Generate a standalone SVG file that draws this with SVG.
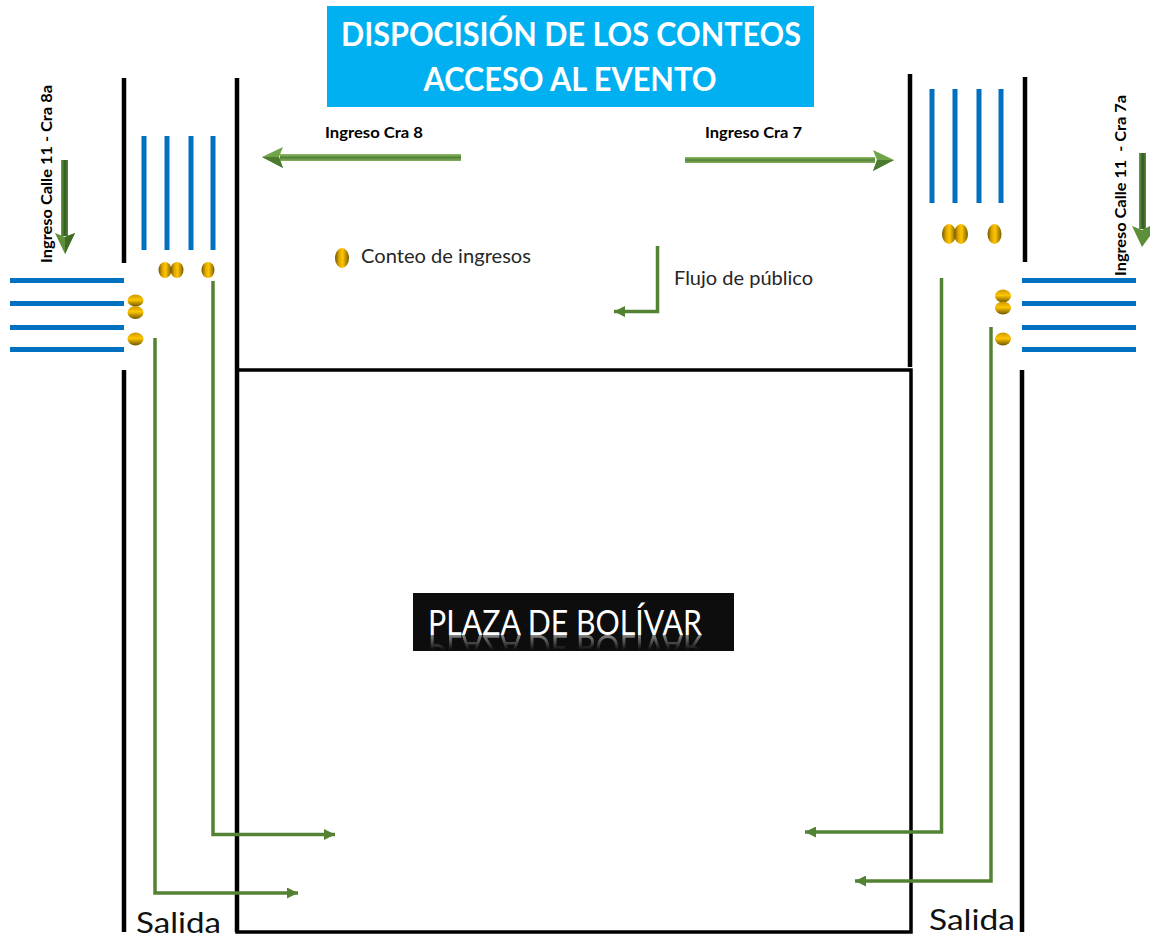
<svg xmlns="http://www.w3.org/2000/svg" width="1150" height="939" viewBox="0 0 1150 939">
<style>
text{font-family:"Lato","Open Sans","Liberation Sans",sans-serif}
.wall{stroke:#000;stroke-width:4.5;fill:none}
.box{stroke:#000;stroke-width:3.5;fill:none}
.cross{stroke:#0070C0;stroke-width:5;fill:none}
.flow{stroke:#548235;stroke-width:3.5;fill:none}
.cv{fill:url(#goldV)}
.ch{fill:url(#goldH)}
.lab{font-size:14.5px;font-weight:700;fill:#000}
.txt{font-size:20px;fill:#262626}
.sal{font-size:29px;fill:#111}
.ttl{font-size:33px;font-weight:700;fill:#fff;text-anchor:middle}
</style>
<defs>
<marker id="ah" markerUnits="userSpaceOnUse" markerWidth="12" markerHeight="11" refX="11" refY="5.500" orient="auto"><path d="M0 0L11 5.500L0 11Z" fill="#548235"/></marker>
<linearGradient id="goldV" x1="0" x2="1" y1="0" y2="0"><stop offset="0" stop-color="#6e5500"/><stop offset=".3" stop-color="#e0a800"/><stop offset=".55" stop-color="#ffc600"/><stop offset="1" stop-color="#7a5d00"/></linearGradient>
<linearGradient id="goldH" x1="0" x2="0" y1="0" y2="1"><stop offset="0" stop-color="#c99700"/><stop offset=".45" stop-color="#ffc600"/><stop offset="1" stop-color="#6e5500"/></linearGradient>
<linearGradient id="sh" x1="0" x2="0" y1="0" y2="1"><stop offset="0" stop-color="#8fbf6a"/><stop offset=".5" stop-color="#548235"/><stop offset="1" stop-color="#86b062"/></linearGradient>
<linearGradient id="sv" x1="0" x2="1" y1="0" y2="0"><stop offset="0" stop-color="#6f9b4c"/><stop offset=".55" stop-color="#2f5a1c"/><stop offset="1" stop-color="#5d8a3c"/></linearGradient>
<linearGradient id="fade" x1="0" x2="0" y1="632" y2="650" gradientUnits="userSpaceOnUse"><stop offset="0" stop-color="#fff" stop-opacity=".6"/><stop offset="1" stop-color="#fff" stop-opacity="0"/></linearGradient>
<mask id="refl" maskUnits="userSpaceOnUse" x="413" y="630" width="321" height="21"><rect x="413" y="630" width="321" height="21" fill="url(#fade)"/></mask>
</defs>

<g id="title"><rect x="327" y="6" width="487" height="101" fill="#00B0F0"/>
<text class="ttl" x="571" y="46" textLength="460" lengthAdjust="spacingAndGlyphs">DISPOCISIÓN DE LOS CONTEOS</text>
<text class="ttl" x="570" y="91" textLength="293" lengthAdjust="spacingAndGlyphs">ACCESO AL EVENTO</text></g>

<g id="walls">
<path class="wall" d="M124 78V263M124 370V932M237 78V932M910 74V367M1025 77V262M1022 370V932"/>
<rect id="plaza-outline" class="box" x="237" y="370" width="674" height="562"/>
</g>

<g id="crossings">
<path class="cross" d="M144 136V250M167 136V250M191 136V250M213 136V250"/>
<path class="cross" d="M10 280.500H124M10 303.500H124M10 327.500H124M10 349.500H124"/>
<path class="cross" d="M932 89V203M955 89V203M979 89V203M1001 89V203"/>
<path class="cross" d="M1022 280.500H1136M1022 303.500H1136M1022 327.500H1136M1022 349.500H1136"/>
</g>

<g id="connectors">
<path class="flow" marker-end="url(#ah)" d="M213 281V834.500H335"/>
<path class="flow" marker-end="url(#ah)" d="M155 338V893H298"/>
<path class="flow" marker-end="url(#ah)" d="M941.500 278V832H805"/>
<path class="flow" marker-end="url(#ah)" d="M991 327V881H855"/>
<path class="flow" marker-end="url(#ah)" d="M657.500 246V311.500H614"/>
</g>

<g id="entry-arrows">
<g id="arrow-cra8"><rect x="280" y="154" width="181" height="7" fill="url(#sh)"/><path d="M262 157L283 147L279 157L283 168Z" fill="#6fa548"/><path d="M262 157L279 157L283 168Z" fill="#4c7a2e"/></g>
<g id="arrow-cra7"><rect x="685" y="157" width="190" height="6" fill="url(#sh)"/><path d="M894 160L873 150L877 160L873 171Z" fill="#6fa548"/><path d="M894 160L877 160L873 171Z" fill="#4c7a2e"/></g>
<g id="arrow-calle8"><rect x="61" y="160" width="7" height="76" fill="url(#sv)"/><path d="M65 254L55 233L65 237L75 233Z" fill="#5d8f3a"/><path d="M65 254L65 237L75 233Z" fill="#3f6b25"/></g>
<g id="arrow-calle7"><rect x="1139" y="153" width="7" height="76" fill="url(#sv)"/><path d="M1142 247L1132 226L1142 230L1150 226V236Z" fill="#5d8f3a"/></g>
</g>

<g id="counters">
<ellipse class="cv" cx="165" cy="270" rx="6.500" ry="8"/><ellipse class="cv" cx="177" cy="270" rx="6.500" ry="8"/><ellipse class="cv" cx="208" cy="270" rx="6.500" ry="8"/>
<ellipse class="ch" cx="135.500" cy="300.500" rx="8" ry="6"/><ellipse class="ch" cx="135.500" cy="312.500" rx="8" ry="6.500"/><ellipse class="ch" cx="135.500" cy="339" rx="8" ry="6.500"/>
<ellipse class="cv" cx="949" cy="234" rx="7" ry="10"/><ellipse class="cv" cx="961" cy="234" rx="7" ry="10"/><ellipse class="cv" cx="994.500" cy="234" rx="7" ry="10"/>
<ellipse class="ch" cx="1003" cy="296" rx="8" ry="6.500"/><ellipse class="ch" cx="1003" cy="308" rx="8" ry="6.500"/><ellipse class="ch" cx="1003" cy="339" rx="8" ry="6.500"/>
</g>

<g id="legend-count"><ellipse class="cv" cx="342" cy="258" rx="7" ry="10"/>
<text class="txt" x="361" y="263" textLength="170" lengthAdjust="spacingAndGlyphs">Conteo de ingresos</text></g>
<g id="legend-flow"><text class="txt" x="674" y="285" textLength="139" lengthAdjust="spacingAndGlyphs">Flujo de público</text></g>

<g id="labels">
<text class="lab" x="325" y="138" textLength="98" lengthAdjust="spacingAndGlyphs">Ingreso Cra 8</text>
<text class="lab" x="705" y="138" textLength="97" lengthAdjust="spacingAndGlyphs">Ingreso Cra 7</text>
<text class="lab" transform="translate(52 263) rotate(-90)" textLength="178" lengthAdjust="spacingAndGlyphs">Ingreso Calle 11 - Cra 8a</text>
<text class="lab" transform="translate(1126 276) rotate(-90)" textLength="181" lengthAdjust="spacingAndGlyphs" xml:space="preserve">Ingreso Calle 11  - Cra 7a</text>
<text class="sal" x="136" y="933" textLength="85" lengthAdjust="spacingAndGlyphs">Salida</text>
<text class="sal" x="929" y="930" textLength="86" lengthAdjust="spacingAndGlyphs">Salida</text>
</g>

<g id="plaza"><rect x="413" y="593" width="321" height="58" fill="#0d0d0d"/>
<text id="plaza-text" x="428" y="635" font-size="35" fill="#fff" textLength="274" lengthAdjust="spacingAndGlyphs">PLAZA DE BOLÍVAR</text>
<g mask="url(#refl)"><use href="#plaza-text" transform="translate(0 1270) scale(1 -1)"/></g>
</g>
</svg>
